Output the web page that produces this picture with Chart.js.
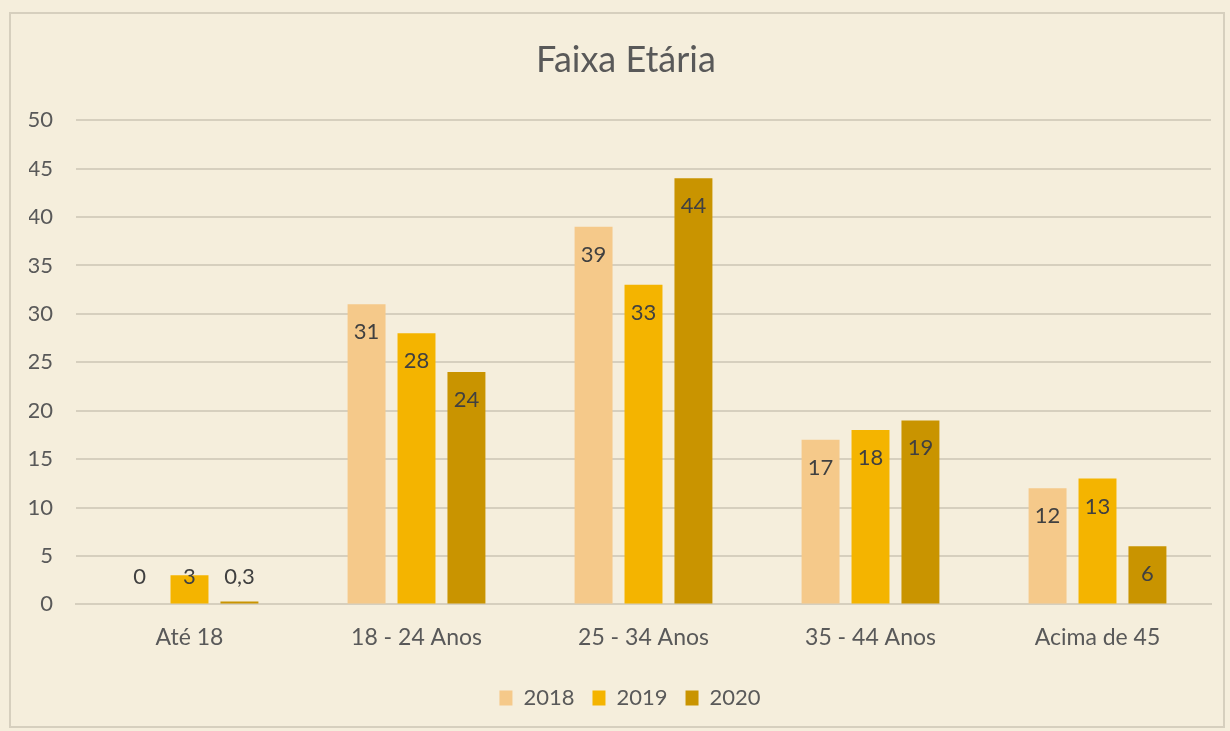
<!DOCTYPE html>
<html>
<head>
<meta charset="utf-8">
<script src="https://cdn.jsdelivr.net/npm/chart.js@4"></script>
<style>
  body { margin: 0; background: #F5EEDC; }
  #wrap {
    position: absolute; left: 9px; top: 12px;
    width: 1216px; height: 716px;
    border: 2px solid #D6CFBE; box-sizing: border-box;
  }
</style>
</head>
<body>
<div id="wrap"><canvas id="ageChart"></canvas></div>
<script>
  const categories = ["Até 18", "18 - 24 Anos", "25 - 34 Anos", "35 - 44 Anos", "Acima de 45"];
  const values2018 = [0, 31, 39, 17, 12];
  const values2019 = [3, 28, 33, 18, 13];
  const values2020 = [0.3, 24, 44, 19, 6];
  const yTicks = [0, 5, 10, 15, 20, 25, 30, 35, 40, 45, 50];

  const font = "Lato";

  // labels sit inside the top of the bar, pushed up above short bars
  const barLabels = {
    id: "barLabels",
    afterDatasetsDraw(chart) {
      const ctx = chart.ctx;
      const base = chart.scales.y.getPixelForValue(0);
      ctx.save();
      ctx.font = "22px " + font;
      ctx.fillStyle = "#404040";
      ctx.textAlign = "center";
      ctx.textBaseline = "middle";
      chart.data.datasets.forEach((ds, i) => {
        chart.getDatasetMeta(i).data.forEach((bar, j) => {
          const y = Math.min(bar.y + 28, base - 27);
          ctx.fillText(String(ds.data[j]).replace(".", ","), bar.x, y);
        });
      });
      ctx.restore();
    }
  };

  // Excel centres title and legend on the whole frame, nudge them right a bit
  const nudge = {
    id: "nudge",
    afterLayout(chart) {
      chart.titleBlock.left += 12;
      chart.legend.left += 20;
    }
  };

  new Chart(document.getElementById("ageChart"), {
    type: "bar",
    data: {
      labels: categories,
      datasets: [
        { label: "2018", backgroundColor: "#F5C98A", data: values2018 },
        { label: "2019", backgroundColor: "#F4B400", data: values2019 },
        { label: "2020", backgroundColor: "#C99400", data: values2020 },
      ],
    },
    options: {
      responsive: true,
      maintainAspectRatio: false,
      animation: false,
      categoryPercentage: 0.66,
      barPercentage: 0.76,
      layout: { padding: { left: 18, right: 12, top: 0, bottom: 7 } },
      plugins: {
        title: {
          display: true,
          text: "Faixa Etária",
          color: "#595959",
          font: { family: font, size: 36, weight: "normal" },
          padding: { top: 25, bottom: 38 },
        },
        legend: {
          position: "bottom",
          labels: {
            boxWidth: 13, boxHeight: 15, padding: 18,
            color: "#595959",
            font: { family: font, size: 22 },
          },
        },
        tooltip: { enabled: false },
      },
      scales: {
        x: {
          grid: { display: false },
          border: { color: "#D6CFBE", width: 2 },
          ticks: { color: "#595959", font: { family: font, size: 23 }, padding: 11 },
          afterFit: (s) => { s.height += 7; },
        },
        y: {
          min: 0, max: 50,
          afterBuildTicks: (axis) => { axis.ticks = yTicks.map(v => ({ value: v })); },
          afterFit: (s) => { s.width = 47; },
          grid: { color: "#D6CFBE", lineWidth: 2, drawTicks: false },
          border: { display: false },
          ticks: { color: "#595959", font: { family: font, size: 22 }, padding: 23 },
        },
      },
    },
    plugins: [barLabels, nudge],
  });
</script>
</body>
</html>
